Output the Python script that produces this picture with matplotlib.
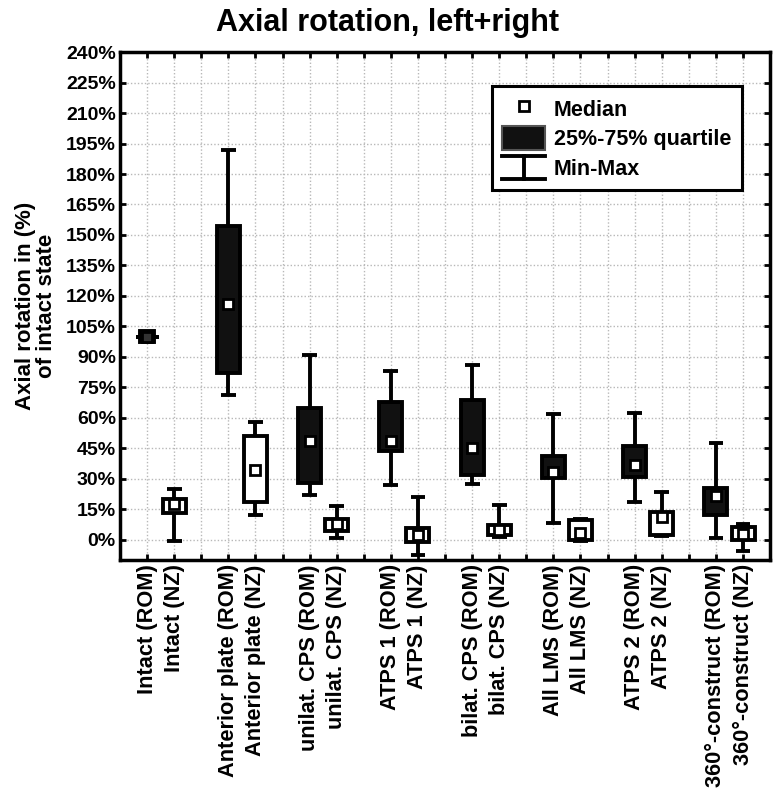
import numpy as np
import matplotlib
matplotlib.use("Agg")
import matplotlib.pyplot as plt
from matplotlib.patches import Rectangle
from matplotlib.lines import Line2D
from matplotlib.legend_handler import HandlerBase

plt.rcParams['font.family'] = ['Liberation Sans', 'DejaVu Sans']
plt.rcParams['font.weight'] = 'bold'

groups = ["Intact", "Anterior plate", "unilat. CPS", "ATPS 1",
          "bilat. CPS", "All LMS", "ATPS 2", "360°-construct"]

# ROM (filled boxes)
rom_min = [100, 71, 22, 27, 27.5, 8, 18.5, 1]
rom_q1 = [97.5, 82, 28, 43.5, 32, 30.5, 31, 12]
rom_med = [100, 116, 48.5, 48.5, 45, 33.5, 37, 21.5]
rom_q3 = [102.5, 154.5, 65, 68, 69, 41, 46, 25.5]
rom_max = [100, 192, 91, 83, 86, 62, 62.5, 47.5]

# NZ (open boxes)
nz_min = [-0.5, 12, 1, -7.5, 1.5, -0.5, 2, -5.5]
nz_q1 = [13, 18.5, 4.5, -1, 2.5, 0, 2.5, 0]
nz_med = [17.5, 34.5, 7.5, 2.5, 5, 3.5, 11, 3]
nz_q3 = [20, 51, 10, 5.5, 7, 9.5, 13.5, 6]
nz_max = [25, 58, 16.5, 21, 17, 10, 23.5, 7.5]

yticks = np.arange(0, 241, 15)


def draw_box(ax, x, lo, q1, med, q3, hi, face, bw=0.85, cw=0.55, mface='white'):
    # whiskers + caps
    ax.vlines(x, lo, q1, color='black', lw=2.8, zorder=2)
    ax.vlines(x, q3, hi, color='black', lw=2.8, zorder=2)
    ax.hlines([lo, hi], x - cw / 2, x + cw / 2, color='black', lw=2.8, zorder=2)
    ax.add_patch(Rectangle((x - bw / 2, q1), bw, q3 - q1, facecolor=face,
                           edgecolor='black', lw=2.8, zorder=3))
    ax.plot(x, med, 's', ms=7.5, mfc=mface, mec='black', mew=2, zorder=4)


class MinMaxHandler(HandlerBase):
    def create_artists(self, legend, orig, xd, yd, w, h, fontsize, trans):
        x0, y0 = -xd, -yd
        cx = x0 + w / 2
        top = y0 + h
        bot = y0
        arts = [Line2D([cx, cx], [bot, top]),
                Line2D([x0, x0 + w], [top, top]),
                Line2D([x0, x0 + w], [bot, bot])]
        for a in arts:
            a.set_color('black')
            a.set_linewidth(2.8)
            a.set_transform(trans)
        return arts


fig = plt.figure(figsize=(7.74, 7.96), dpi=100)
ax = fig.add_axes([0.155, 0.2965, 0.84, 0.638])

pos_rom = [3 * i + 1 for i in range(len(groups))]
pos_nz = [3 * i + 2 for i in range(len(groups))]

for i in range(len(groups)):
    if i == 0:
        draw_box(ax, pos_rom[i], rom_min[i], rom_q1[i], rom_med[i], rom_q3[i],
                 rom_max[i], '#111111', bw=0.5, cw=0.85, mface='#333333')
    else:
        draw_box(ax, pos_rom[i], rom_min[i], rom_q1[i], rom_med[i], rom_q3[i],
                 rom_max[i], '#111111')
    draw_box(ax, pos_nz[i], nz_min[i], nz_q1[i], nz_med[i], nz_q3[i],
             nz_max[i], 'white')

ax.set_xlim(0, 24)
ax.set_ylim(-10, 240)

xt = np.arange(0, 25)
labels = [''] * len(xt)
for i, g in enumerate(groups):
    labels[pos_rom[i]] = g + " (ROM)"
    labels[pos_nz[i]] = g + " (NZ)"
ax.set_xticks(xt)
ax.set_xticklabels(labels, rotation=90, fontsize=15.7, fontweight='bold')
ax.set_yticks(yticks)
ax.set_yticklabels([f"{v}%" for v in yticks], fontsize=14, fontweight='bold')

ax.grid(True, color='#b8b8b8', linestyle=(0, (1, 1.5)), linewidth=1)
ax.set_axisbelow(True)
ax.tick_params(direction='in', length=4, width=2, top=True, right=True,
               pad=3)
for s in ax.spines.values():
    s.set_linewidth(2.5)

ax.set_ylabel("Axial rotation in (%)\nof intact state", fontsize=16,
              fontweight='bold', labelpad=6, linespacing=1.0)
fig.suptitle("Axial rotation, left+right", fontsize=22, fontweight='bold',
             x=0.5, y=0.99)

h_med = Line2D([], [], marker='s', ls='none', ms=7.5, mfc='white',
               mec='black', mew=2)
h_box = Rectangle((0, 0), 1, 1, facecolor='#111111', edgecolor='#555555', lw=1.5)
h_mm = Line2D([], [])
leg = ax.legend([h_med, h_box, h_mm], ["Median", "25%-75% quartile", "Min-Max"],
                handler_map={h_mm: MinMaxHandler()},
                loc='upper right', bbox_to_anchor=(0.957, 0.933),
                borderaxespad=0,
                prop={'weight': 'bold', 'size': 15.5},
                fancybox=False, framealpha=1, edgecolor='black',
                handlelength=2.0, handleheight=1.3, handletextpad=0.4,
                labelspacing=0.25, borderpad=0.5)
leg.get_frame().set_linewidth(2.2)

fig.savefig("out.png", dpi=100)
